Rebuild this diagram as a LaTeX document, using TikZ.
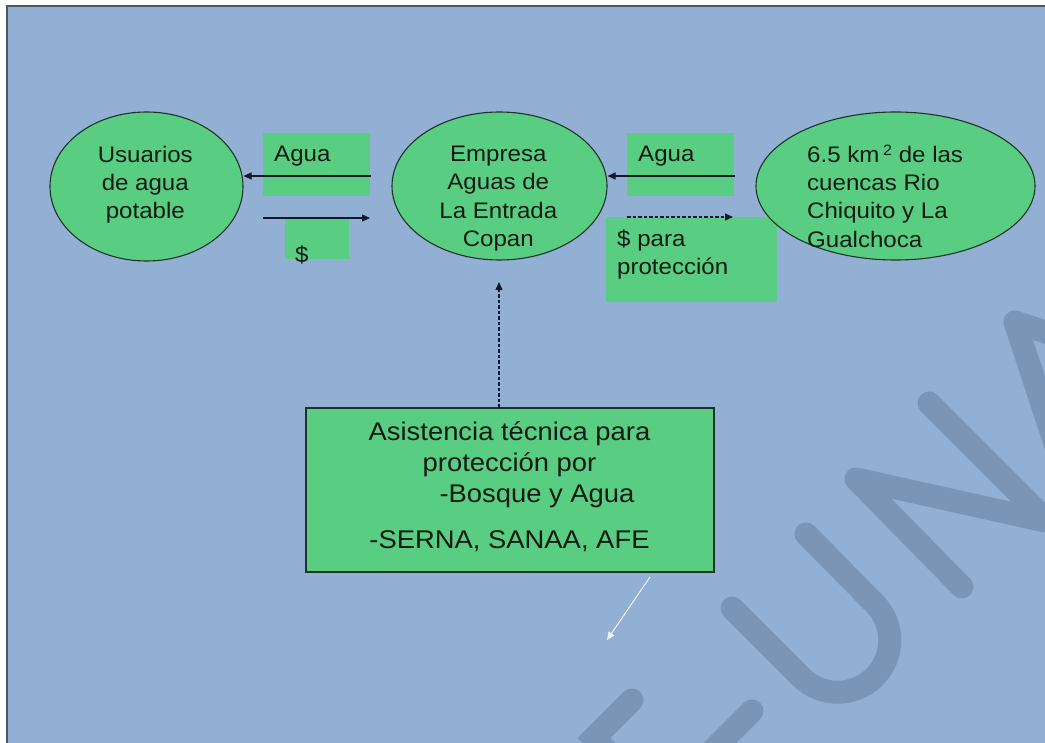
\documentclass[tikz,border=0pt]{standalone}
\usepackage{fontspec}
\setmainfont[FakeStretch=1.07]{Liberation Sans}
\usetikzlibrary{shapes.geometric,arrows.meta,calc}
\definecolor{bg}{HTML}{92AFD4}
\definecolor{grn}{HTML}{59CE83}
\definecolor{wm}{HTML}{7B95B6}
\definecolor{ink}{HTML}{101A12}
\definecolor{edgec}{HTML}{1E3326}
\definecolor{framec}{HTML}{555555}
\definecolor{arr}{HTML}{14182A}
\begin{document}
\begin{tikzpicture}[x=1pt,y=-1pt,
  ell/.style={ellipse, draw=edgec, line width=1.1pt, fill=grn, inner sep=0pt},
  gbox/.style={rectangle, fill=grn, inner sep=0pt},
  txt/.style={text=ink, inner sep=0pt, font=\fontsize{22.5}{28}\selectfont},
  bigtxt/.style={text=ink, inner sep=0pt, font=\fontsize{25.6}{30.8}\selectfont},
  arrowc/.style={draw=arr, line width=1.1pt, -{Triangle[length=8pt,width=7pt]}},
  dasharr/.style={arrowc, dash pattern=on 3.5pt off 2pt},
  wmstroke/.style={draw=wm, line width=23pt, line cap=round, line join=round}]
\useasboundingbox (0,0) rectangle (1045,743);
\fill[white] (0,0) rectangle (1045,743);
\fill[bg] (7,6) rectangle (1045,743);
\draw[framec, line width=1.5pt] (7,743) -- (7,6) -- (1045,6);
% watermark
\begin{scope}
\clip (7.8,6.8) rectangle (1045,743);
\draw[wmstroke] (732,608) -- (801,677) arc[start angle=135, end angle=-45, radius=52] -- (806,534);
\draw[wmstroke] (962,587) -- (856,479) -- (1045,521);
\draw[wmstroke] (929,403) -- (1045,519);
\draw[wmstroke] (1071,492) -- (1015,322) -- (1185,378);
\draw[wmstroke, line join=miter] (632,700) -- (594,738) -- (650,794);
\draw[wmstroke] (752,711) -- (690,773);
\end{scope}
% boxes
\node[gbox, minimum width=107pt, minimum height=63pt] (bagua1) at (316.5,164.5) {};
\node[gbox, minimum width=64pt, minimum height=40pt] (bdol) at (317,239) {};
\node[gbox, minimum width=107pt, minimum height=63pt] (bagua2) at (680.5,164.5) {};
\node[gbox, minimum width=171pt, minimum height=85pt] (bprot) at (691.5,259.5) {};
\node[gbox, draw=edgec, line width=1.1pt, minimum width=408pt, minimum height=164pt] (basis) at (510,490) {};
% ellipses
\node[ell, minimum width=193pt, minimum height=149pt] (e1) at (146.5,186.5) {};
\node[ell, minimum width=215pt, minimum height=148pt] (e2) at (499.5,186) {};
\node[ell, minimum width=279pt, minimum height=148pt] (e3) at (895.5,186) {};
% arrows
\coordinate (a1s) at (371,176);
\draw[arrowc] (a1s) -- (a1s -| e1.east);
\coordinate (a2s) at (263,218);
\coordinate (a2e) at (370,218);
\draw[arrowc] (a2s) -- (a2e);
\coordinate (a3s) at (735,176);
\draw[arrowc] (a3s) -- (a3s -| e2.east);
\coordinate (a4s) at (627,217);
\coordinate (a4e) at (733,217);
\draw[dasharr] (a4s) -- (a4e);
\coordinate (a5s) at (499,408);
\coordinate (a5e) at (499,282);
\draw[dasharr] (a5s) -- (a5e);
\coordinate (a6s) at (650,577);
\coordinate (a6e) at (607,640);
\draw[arrowc, draw=white!85!bg, line width=1pt] (a6s) -- (a6e);
% texts
\node[txt, align=center, anchor=north] (t1) at (145.3,146.2) {Usuarios\\de agua\\potable};
\node[txt, align=center, anchor=north, font=\fontsize{22.5}{28.1}\selectfont] (t2) at (498.3,146.2) {Empresa\\Aguas de\\La Entrada\\Copan};
\node[txt, align=left, anchor=north west, font=\fontsize{22.5}{28.1}\selectfont] (t3) at (807,146.2) {6.5 km\,\smash{\raisebox{0.3em}{\fontsize{15}{15}\selectfont 2}} de las\\cuencas Rio\\Chiquito y La\\Gualchoca};
\node[txt, anchor=base west] (t4) at (274,161.3) {Agua};
\node[txt, anchor=base west] (t5) at (295,263) {\$};
\node[txt, anchor=base west] (t6) at (638,161.7) {Agua};
\node[txt, align=left, anchor=north west, font=\fontsize{22.5}{27.3}\selectfont] (t7) at (617,230.1) {\$ para\\protección};
\node[bigtxt, align=center, anchor=north] (t8) at (509.5,421.4) {Asistencia técnica para\\protección por\\\hspace*{55pt}-Bosque y Agua\\[15.8pt]-SERNA, SANAA, AFE};
\end{tikzpicture}
\end{document}
